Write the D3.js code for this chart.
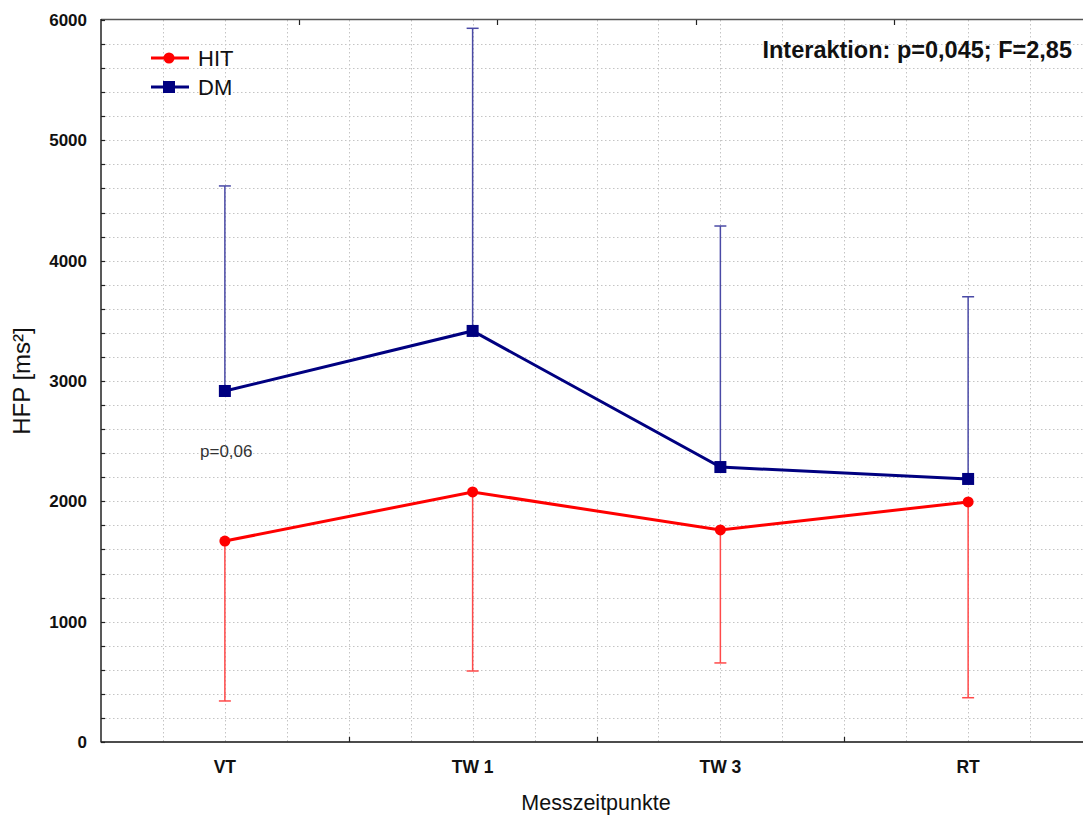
<!DOCTYPE html>
<html>
<head>
<meta charset="utf-8">
<script src="https://cdn.jsdelivr.net/npm/d3@7"></script>
<style>
  html, body { margin: 0; padding: 0; background: #fff; }
  svg { display: block; font-family: "Liberation Sans", Arial, sans-serif; }
</style>
</head>
<body>
<svg id="chart" width="1083" height="817"></svg>
<script>
// Measurement time points
const categories = ["VT", "TW 1", "TW 3", "RT"];
// HIT group: means and standard deviations (drawn downward)
const hitMean = [1670, 2078, 1762, 1995];
const hitSD = [1329, 1488, 1105, 1627];
// DM group: means and standard deviations (drawn upward)
const dmMean = [2917, 3416, 2285, 2186];
const dmSD = [1704, 2515, 2003, 1514];
// Axis ticks
const yTicks = [0, 1000, 2000, 3000, 4000, 5000, 6000];
const yMinorStep = 200;

const svg = d3.select("#chart");
const plotLeft = 101, plotRight = 1092, plotTop = 20, plotBottom = 742;

// Continuous x: each category occupies one unit, centred at i + 0.5
const x = d3.scaleLinear().domain([0, 4]).range([plotLeft, plotRight]);
const y = d3.scaleLinear().domain([0, 6000]).range([plotBottom, plotTop]);
const xc = i => x(i + 0.5);
const px = v => Math.round(v) + 0.5;

// Grid
const grid = svg.append("g").attr("stroke", "#c4c4c4").attr("stroke-width", 1)
  .attr("stroke-dasharray", "1.5,2.5");
d3.range(0.25, 4, 0.25).forEach(v => {
  grid.append("line").attr("x1", px(x(v))).attr("x2", px(x(v)))
    .attr("y1", plotTop).attr("y2", plotBottom);
});
d3.range(yMinorStep, 6000, yMinorStep).forEach(v => {
  grid.append("line").attr("x1", plotLeft).attr("x2", plotRight)
    .attr("y1", px(y(v))).attr("y2", px(y(v)));
});

// Frame lines
svg.append("line").attr("x1", plotLeft).attr("x2", plotRight).attr("y1", plotTop - 0.5).attr("y2", plotTop - 0.5)
  .attr("stroke", "#555").attr("stroke-width", 1.5);
svg.append("line").attr("x1", plotLeft).attr("x2", plotRight).attr("y1", plotBottom).attr("y2", plotBottom)
  .attr("stroke", "#111").attr("stroke-width", 1.5);
svg.append("line").attr("x1", plotLeft).attr("x2", plotLeft).attr("y1", plotTop - 1).attr("y2", plotBottom + 0.5)
  .attr("stroke", "#222").attr("stroke-width", 1.5);

// Left axis ticks (inward) every 200
const ticks = svg.append("g").attr("stroke", "#222").attr("stroke-width", 1.2);
d3.range(0, 6001, yMinorStep).forEach(v => {
  ticks.append("line").attr("x1", plotLeft).attr("x2", plotLeft + 4)
    .attr("y1", px(y(v))).attr("y2", px(y(v)));
});
// Bottom axis ticks (inward) between categories
[1, 2, 3].forEach(v => {
  ticks.append("line").attr("x1", px(x(v))).attr("x2", px(x(v)))
    .attr("y1", plotBottom).attr("y2", plotBottom - 5);
});
// Top axis ticks
[0.8, 1.6, 2.4, 3.2].forEach(v => {
  ticks.append("line").attr("x1", px(x(v))).attr("x2", px(x(v)))
    .attr("y1", plotTop).attr("y2", plotTop + 5);
});

// Y tick labels
svg.append("g").selectAll("text").data(yTicks).join("text")
  .attr("x", 87).attr("y", d => y(d) + 6)
  .attr("text-anchor", "end").attr("font-size", 17).attr("font-weight", "bold")
  .attr("fill", "#111").text(d => d);

// X category labels
svg.append("g").selectAll("text").data(categories).join("text")
  .attr("x", (d, i) => xc(i)).attr("y", 773)
  .attr("text-anchor", "middle").attr("font-size", 17.5).attr("font-weight", "bold")
  .attr("fill", "#111").text(d => d);

// Axis titles
svg.append("text").attr("x", 596).attr("y", 810).attr("text-anchor", "middle")
  .attr("font-size", 21.5).attr("fill", "#111").text("Messzeitpunkte");
svg.append("text").attr("transform", `translate(30,${(plotTop + plotBottom) / 2}) rotate(-90)`)
  .attr("text-anchor", "middle").attr("font-size", 24).attr("fill", "#111").text("HFP [ms²]");

// Error bars
const cap = 6;
function errorBars(means, sds, dir, color) {
  const g = svg.append("g").attr("stroke", color).attr("stroke-width", 1.5);
  means.forEach((m, i) => {
    const end = m + dir * sds[i];
    g.append("line").attr("x1", xc(i)).attr("x2", xc(i)).attr("y1", y(m)).attr("y2", y(end));
    g.append("line").attr("x1", xc(i) - cap).attr("x2", xc(i) + cap).attr("y1", y(end)).attr("y2", y(end));
  });
}
errorBars(hitMean, hitSD, -1, "#ff4a4a");
errorBars(dmMean, dmSD, 1, "#4a4aa6");

// Lines
const line = d3.line().x((d, i) => xc(i)).y(d => y(d));
svg.append("path").datum(hitMean).attr("d", line).attr("fill", "none")
  .attr("stroke", "#ff0000").attr("stroke-width", 3);
svg.append("path").datum(dmMean).attr("d", line).attr("fill", "none")
  .attr("stroke", "#000080").attr("stroke-width", 3);

// Markers
svg.append("g").selectAll("circle").data(hitMean).join("circle")
  .attr("cx", (d, i) => xc(i)).attr("cy", d => y(d)).attr("r", 5.5).attr("fill", "#ff0000");
svg.append("g").selectAll("rect").data(dmMean).join("rect")
  .attr("x", (d, i) => xc(i) - 6).attr("y", d => y(d) - 6)
  .attr("width", 12).attr("height", 12).attr("fill", "#000080");

// Legend
const legend = [
  { name: "HIT", color: "#ff0000", shape: "circle", y: 58 },
  { name: "DM", color: "#000080", shape: "square", y: 87 }
];
legend.forEach(l => {
  svg.append("line").attr("x1", 151).attr("x2", 189).attr("y1", l.y).attr("y2", l.y)
    .attr("stroke", l.color).attr("stroke-width", 3);
  if (l.shape === "circle") {
    svg.append("circle").attr("cx", 169).attr("cy", l.y).attr("r", 5.5).attr("fill", l.color);
  } else {
    svg.append("rect").attr("x", 163).attr("y", l.y - 6).attr("width", 12).attr("height", 12).attr("fill", l.color);
  }
  svg.append("text").attr("x", 198).attr("y", l.y + 8).attr("font-size", 22)
    .attr("fill", "#111").text(l.name);
});

// Annotations
svg.append("text").attr("x", 1072).attr("y", 58).attr("text-anchor", "end")
  .attr("font-size", 23.5).attr("font-weight", "bold").attr("fill", "#111")
  .text("Interaktion: p=0,045; F=2,85");
svg.append("text").attr("x", 200).attr("y", 457).attr("font-size", 17)
  .attr("fill", "#333").text("p=0,06");
</script>
</body>
</html>
